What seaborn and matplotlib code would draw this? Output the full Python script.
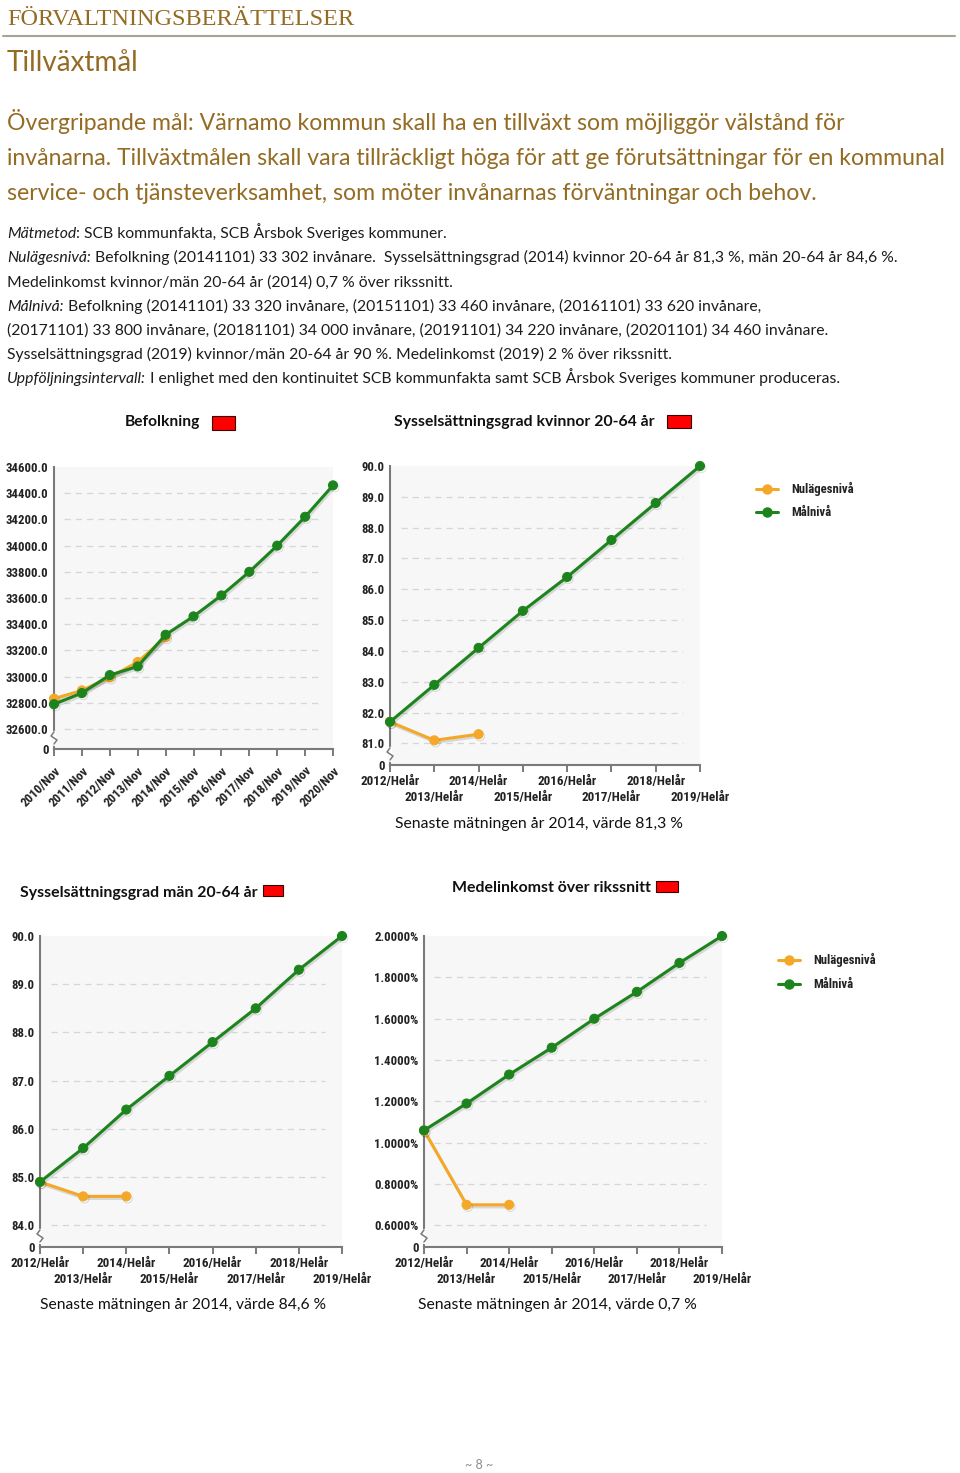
import matplotlib
matplotlib.use("Agg")
import matplotlib.pyplot as plt
import matplotlib.patheffects as pe
import seaborn as sns
import pandas as pd
from matplotlib import font_manager
from matplotlib.lines import Line2D
from matplotlib.patches import Rectangle

# ---------------- data ----------------
bef_labels = ["2010/Nov", "2011/Nov", "2012/Nov", "2013/Nov", "2014/Nov", "2015/Nov",
              "2016/Nov", "2017/Nov", "2018/Nov", "2019/Nov", "2020/Nov"]
bef_mal = [32790, 32875, 33012, 33078, 33320, 33460, 33620, 33800, 34000, 34220, 34460]
bef_nul = [32832, 32895, 32995, 33112, 33302]
bef_ticks = [32600, 32800, 33000, 33200, 33400, 33600, 33800, 34000, 34200, 34400, 34600]

helar_labels = ["2012/Helår", "2013/Helår", "2014/Helår", "2015/Helår",
                "2016/Helår", "2017/Helår", "2018/Helår", "2019/Helår"]
kv_mal = [81.7, 82.9, 84.1, 85.3, 86.4, 87.6, 88.8, 90.0]
kv_nul = [81.7, 81.1, 81.3]
kv_ticks = [81.0, 82.0, 83.0, 84.0, 85.0, 86.0, 87.0, 88.0, 89.0, 90.0]

man_mal = [84.9, 85.6, 86.4, 87.1, 87.8, 88.5, 89.3, 90.0]
man_nul = [84.9, 84.6, 84.6]
man_ticks = [84.0, 85.0, 86.0, 87.0, 88.0, 89.0, 90.0]

ink_mal = [1.06, 1.19, 1.33, 1.46, 1.60, 1.73, 1.87, 2.00]
ink_nul = [1.06, 0.70, 0.70]
ink_ticks = [0.6, 0.8, 1.0, 1.2, 1.4, 1.6, 1.8, 2.0]

series_names = ["Nulägesnivå", "Målnivå"]

# ---------------- fonts ----------------
def has_font(name):
    try:
        font_manager.findfont(font_manager.FontProperties(family=name), fallback_to_default=False)
        return True
    except Exception:
        return False

CH = "Lato"
CH_SCALE = 0.84
for cand, sc in [("Liberation Sans Narrow", 1.0), ("Roboto Condensed", 0.92)]:
    if has_font(cand):
        CH, CH_SCALE = cand, sc
        break
BODY = "Lato" if has_font("Lato") else "DejaVu Sans"
SERIF = "Liberation Serif" if has_font("Liberation Serif") else "DejaVu Serif"

sns.set_style("white")
plt.rcParams["font.family"] = [CH, "DejaVu Sans"]

W, H = 960, 1473
fig = plt.figure(figsize=(W / 100, H / 100), dpi=100)
fig.patch.set_facecolor("white")
renderer = fig.canvas.get_renderer()

BROWN = "#946b22"
GREEN = "#1d841d"
ORANGE = "#f4a827"
SPINE = "#7a7a7a"
BG = "#f7f7f7"
TXT = "#222222"


def fxy(x, y):
    return x / W, 1 - y / H


def text_width(s, **kw):
    t = fig.text(0, 0, s, **kw)
    w = t.get_window_extent(renderer).width
    t.remove()
    return w


def fit_size(s, width, size0=20, **kw):
    return size0 * width / text_width(s, fontsize=size0, **kw)


def adv(s, size, style, family, weight="normal"):
    kw = dict(fontsize=size, fontstyle=style, family=family, fontweight=weight)
    return text_width("x" + s + "x", **kw) - text_width("xx", **kw)


# ---------------- page header ----------------
hs = fit_size("FÖRVALTNINGSBERÄTTELSER", 348, family=SERIF)
fig.text(*fxy(7, 25), "FÖRVALTNINGSBERÄTTELSER", fontsize=hs, family=SERIF,
         color=BROWN, ha="left", va="baseline")
fig.add_artist(Line2D([3 / W, 955 / W], [1 - 36 / H] * 2, transform=fig.transFigure,
                      color="#a9a391", lw=1.5))
ts = fit_size("Tillväxtmål", 132, family=BODY)
fig.text(*fxy(7, 71), "Tillväxtmål", fontsize=ts, family=BODY, color=BROWN,
         ha="left", va="baseline")

para = ["Övergripande mål: Värnamo kommun skall ha en tillväxt som möjliggör välstånd för",
        "invånarna. Tillväxtmålen skall vara tillräckligt höga för att ge förutsättningar för en kommunal",
        "service- och tjänsteverksamhet, som möter invånarnas förväntningar och behov."]
ps = fit_size(para[1], 939, family=BODY)
for i, s in enumerate(para):
    fig.text(*fxy(7, 130 + 35 * i), s, fontsize=ps, family=BODY, color=BROWN,
             ha="left", va="baseline")

small = [
    [("Mätmetod", True), (": SCB kommunfakta, SCB Årsbok Sveriges kommuner.", False)],
    [("Nulägesnivå:", True), (" Befolkning (20141101) 33 302 invånare.  Sysselsättningsgrad (2014) kvinnor 20-64 år 81,3 %, män 20-64 år 84,6 %.", False)],
    [("Medelinkomst kvinnor/män 20-64 år (2014) 0,7 % över rikssnitt.", False)],
    [("Målnivå:", True), (" Befolkning (20141101) 33 320 invånare, (20151101) 33 460 invånare, (20161101) 33 620 invånare,", False)],
    [("(20171101) 33 800 invånare, (20181101) 34 000 invånare, (20191101) 34 220 invånare, (20201101) 34 460 invånare.", False)],
    [("Sysselsättningsgrad (2019) kvinnor/män 20-64 år 90 %. Medelinkomst (2019) 2 % över rikssnitt.", False)],
    [("Uppföljningsintervall:", True), (" I enlighet med den kontinuitet SCB kommunfakta samt SCB Årsbok Sveriges kommuner produceras.", False)],
]
ref = sum(adv(s, 20, "italic" if it else "normal", BODY) for s, it in small[1])
ss = 20 * 889 / ref
for i, parts in enumerate(small):
    x = 7
    for s, it in parts:
        st = "italic" if it else "normal"
        fig.text(*fxy(x, 238 + 24.2 * i), s, fontsize=ss, fontstyle=st, family=BODY,
                 color="#1c1c1c", ha="left", va="baseline")
        x += adv(s, ss, st, BODY)


# ---------------- chart helpers ----------------
def title_with_box(s, x0, x1, yc, box):
    sz = fit_size(s, x1 - x0, family=BODY, fontweight="bold")
    fig.text(*fxy(x0, yc), s, fontsize=sz, family=BODY, fontweight="bold",
             color="#111111", ha="left", va="center")
    bx0, by0, bx1, by1 = box
    fig.add_artist(Rectangle((bx0 / W, 1 - by1 / H), (bx1 - bx0) / W, (by1 - by0) / H,
                             transform=fig.transFigure, facecolor="#ff0000",
                             edgecolor="#3a0000", lw=0.8))


def caption(s, x0, x1, yc):
    sz = fit_size(s, x1 - x0, family=BODY)
    fig.text(*fxy(x0, yc), s, fontsize=sz, family=BODY, color="#111111",
             ha="left", va="center")


def legend(xl, xr, xt, y0, y1):
    fs = 10 * CH_SCALE
    for name, col, y in [(series_names[0], ORANGE, y0), (series_names[1], GREEN, y1)]:
        fig.add_artist(Line2D([xl / W, xr / W], [1 - y / H] * 2, transform=fig.transFigure,
                              color=col, lw=2.2))
        fig.add_artist(Line2D([(xl + xr) / 2 / W], [1 - y / H], transform=fig.transFigure,
                              color=col, marker="o", markersize=6.5, markeredgecolor=col))
        fig.text(*fxy(xt, y), name, fontsize=fs, fontweight="bold", color=TXT,
                 ha="left", va="center")


def chart(box, labels, mal, nul, ticks, ybottom, fmt, rotate):
    l, t, r, b = box
    ax = fig.add_axes([l / W, 1 - b / H, (r - l) / W, (b - t) / H])
    ax.set_facecolor(BG)
    df_n = pd.DataFrame({"x": range(len(nul)), "v": nul})
    df_m = pd.DataFrame({"x": range(len(mal)), "v": mal})
    shadow = [pe.SimpleLineShadow(offset=(1, -1.5), alpha=0.12), pe.Normal()]
    sns.lineplot(data=df_n, x="x", y="v", ax=ax, color=ORANGE, lw=2.2, marker="o",
                 markersize=6.5, markeredgecolor=ORANGE, clip_on=False, zorder=3,
                 legend=False, path_effects=shadow)
    sns.lineplot(data=df_m, x="x", y="v", ax=ax, color=GREEN, lw=2.2, marker="o",
                 markersize=6.5, markeredgecolor=GREEN, clip_on=False, zorder=4,
                 legend=False, path_effects=shadow)
    n = len(labels)
    ax.set_xlim(0, n - 1)
    ax.set_ylim(ybottom, ticks[-1])
    for v in ticks[:-1]:
        ax.axhline(v, xmin=0.035, xmax=0.945, color="#d6d6d6", lw=0.9,
                   ls=(0, (5, 4)), zorder=1)
    ax.set_yticks([ybottom] + ticks)
    ax.set_yticklabels(["0"] + [fmt(v) for v in ticks])
    fs = 10 * CH_SCALE
    if rotate:
        ax.set_xticks(range(n))
        ax.set_xticklabels(labels, rotation=45, ha="right", rotation_mode="anchor",
                           fontsize=fs, fontweight="bold", color=TXT)
        ax.tick_params(axis="x", which="major", pad=6)
    else:
        ax.set_xticks(range(0, n, 2))
        ax.set_xticklabels(labels[0::2], fontsize=fs * 1.03, fontweight="bold", color=TXT)
        ax.set_xticks(range(1, n, 2), minor=True)
        ax.set_xticklabels(labels[1::2], minor=True, fontsize=fs * 1.03,
                           fontweight="bold", color=TXT)
        ax.tick_params(axis="x", which="major", pad=2)
        ax.tick_params(axis="x", which="minor", pad=13.5)
    for lab in ax.get_yticklabels():
        lab.set_fontweight("bold")
        lab.set_fontsize(fs)
        lab.set_color(TXT)
    ax.tick_params(axis="y", which="both", left=False, length=0, pad=4)
    ax.tick_params(axis="x", which="both", bottom=True, direction="out", length=5,
                   width=1.4, color=SPINE)
    ax.set_xlabel("")
    ax.set_ylabel("")
    for side in ["top", "right"]:
        ax.spines[side].set_visible(False)
    for side in ["left", "bottom"]:
        ax.spines[side].set_color(SPINE)
        ax.spines[side].set_linewidth(1.5)
    ax.grid(False)
    # axis break mark on the y axis
    hpx, wpx = (b - t), (r - l)
    ax.plot([0, 0], [5 / hpx, 17 / hpx], transform=ax.transAxes, color="white",
            lw=2.5, clip_on=False, zorder=6)
    zx = [0, -3 / wpx, 3 / wpx, 0]
    zy = [17 / hpx, 13 / hpx, 9 / hpx, 5 / hpx]
    ax.plot(zx, zy, transform=ax.transAxes, color=SPINE, lw=1.1, clip_on=False, zorder=7)
    return ax


# ---------------- charts ----------------
title_with_box("Befolkning", 125, 200, 422, (212, 416, 235, 430))
chart((54, 467, 333, 749), bef_labels, bef_mal, bef_nul, bef_ticks, 32448,
      lambda v: f"{v:.1f}", True)

title_with_box("Sysselsättningsgrad kvinnor 20-64 år", 394, 654, 422, (667, 415, 691, 428))
chart((390, 466, 700, 765), helar_labels, kv_mal, kv_nul, kv_ticks, 80.30,
      lambda v: f"{v:.1f}", False)
caption("Senaste mätningen år 2014, värde 81,3 %", 395, 683, 824)
legend(756, 778, 791, 489, 512)

title_with_box("Sysselsättningsgrad män 20-64 år", 20, 257, 893, (263, 885, 283, 896))
chart((40, 936, 342, 1247), helar_labels, man_mal, man_nul, man_ticks, 83.55,
      lambda v: f"{v:.1f}", False)
caption("Senaste mätningen år 2014, värde 84,6 %", 40, 327, 1305)

title_with_box("Medelinkomst över rikssnitt", 452, 651, 888, (656, 881, 678, 892))
chart((424, 936, 722, 1247), helar_labels, ink_mal, ink_nul, ink_ticks, 0.496,
      lambda v: f"{v:.4f}%", False)
caption("Senaste mätningen år 2014, värde 0,7 %", 418, 697, 1305)
legend(778, 800, 813, 960, 984)

fig.text(*fxy(479, 1465), "~ 8 ~", fontsize=9, family=BODY, color="#8c8c8c",
         ha="center", va="center")

fig.savefig("out.png", dpi=100, facecolor="white")
